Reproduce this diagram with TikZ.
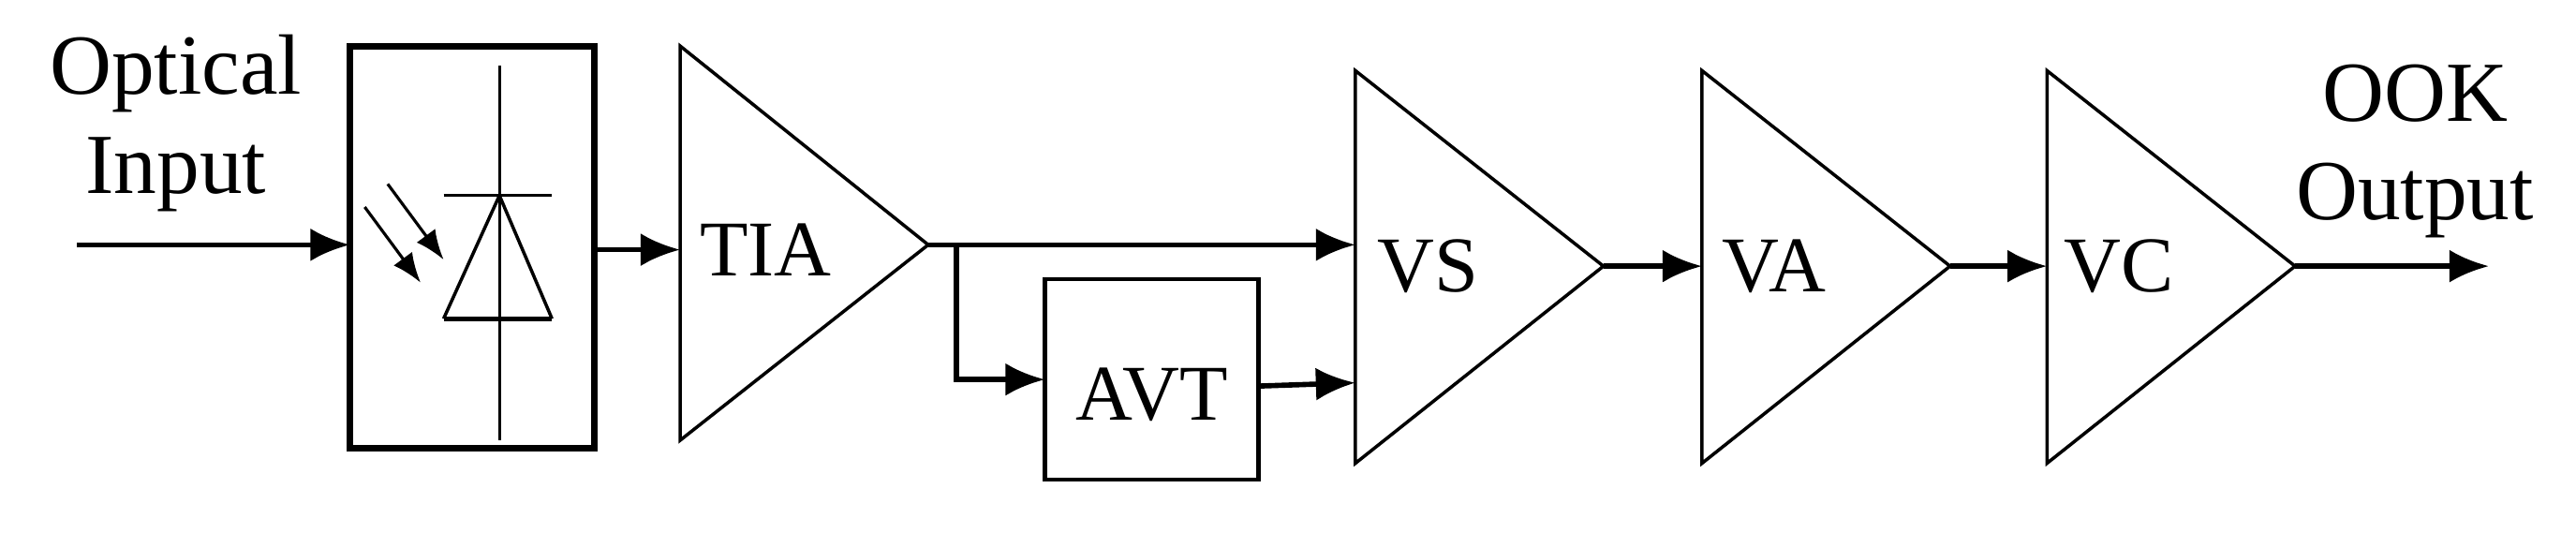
\documentclass[tikz,border=0pt]{standalone}
\usepackage{fontspec}
\setmainfont{Liberation Serif}
\usetikzlibrary{arrows.meta}
\begin{document}
\begin{tikzpicture}[x=0.01754cm,y=-0.01754cm,
  amp/.style={line width=1pt},
  wire/.style={line width=1.6pt,-{Latex[length=12pt,width=10pt]}},
  lbl/.style={font=\fontsize{24}{28}\selectfont,inner sep=0pt},
  lbl2/.style={font=\fontsize{26}{30}\selectfont,inner sep=0pt,align=center}]
\useasboundingbox (0,0) rectangle (1568,324);
% labels
\node[lbl2] (oi) at (107,75) {Optical\\Input};
\node[lbl2] (oo) at (1470,92) {OOK\\Output};
% photodiode box
\draw[line width=2pt] (213,28) rectangle (362,273);
\coordinate (pdl) at (213,149);
\coordinate (pdr) at (362,152);
\coordinate (in) at (47,149);
\draw[wire] (in) -- (pdl);
\draw[line width=0.8pt] (304,40) -- (304,268);
\draw[line width=1pt] (270,119) -- (336,119);
\draw[line width=1.4pt] (270,194) -- (336,194);
\draw[line width=1pt] (304,119) -- (270,194) (304,119) -- (336,194);
\draw[line width=0.9pt,-{Latex[length=9pt,width=7pt]}] (236,112) -- (270,158);
\draw[line width=0.9pt,-{Latex[length=9pt,width=7pt]}] (222,126) -- (256,172);
% amplifiers
\draw[amp] (414,28) -- (565,149) -- (414,268) -- cycle;
\coordinate (tiai) at (414,152);
\coordinate (tiao) at (565,149);
\node[lbl] (tia) at (466,152) {TIA};
\foreach \n/\x/\t in {vs/825/VS,va/1036/VA,vc/1246/VC}{
  \draw[amp] (\x,43) -- (\x+151,162) -- (\x,282) -- cycle;
  \coordinate (\n o) at (\x+151,162);
  \coordinate (\n i) at (\x,162);
  \node[lbl] (\n t) at (\x+44,162) {\t};
}
\coordinate (vsa) at (825,149);
\coordinate (vsb) at (825,233);
\draw[line width=1.2pt] (636,170) rectangle (766,292);
\node[lbl] (avt) at (701,240) {AVT};
\coordinate (avtl) at (636,231);
\coordinate (avtr) at (766,235);
\coordinate (br) at (582,149);
\coordinate (out) at (1515,162);
\draw[wire] (pdr) -- (tiai);
\draw[wire] (tiao) -- (vsa);
\draw[wire] (br) |- (avtl);
\draw[wire] (avtr) -- (vsb);
\draw[wire] (vso) -- (vai);
\draw[wire] (vao) -- (vci);
\draw[wire] (vco) -- (out);
\end{tikzpicture}
\end{document}
